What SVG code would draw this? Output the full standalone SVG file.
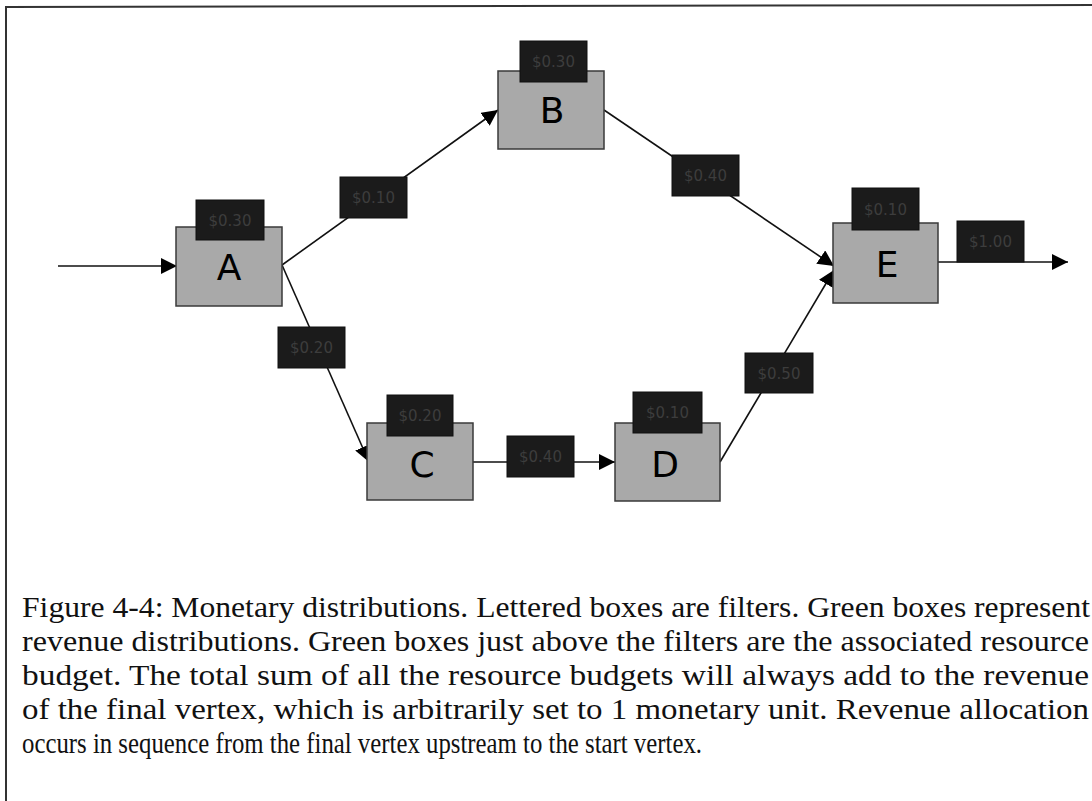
<svg xmlns="http://www.w3.org/2000/svg" width="1092" height="801" viewBox="0 0 1092 801">
<defs>
<marker id="ah" viewBox="0 0 10 10" refX="10" refY="5" markerWidth="16" markerHeight="16" markerUnits="userSpaceOnUse" orient="auto">
<path d="M0,0 L10,5 L0,10 z" fill="#000"/>
</marker>
<style>
.filter{fill:#a9a9a9;stroke:#3a3a3a;stroke-width:1.5}
.dark{fill:#1b1b1b;stroke:#111;stroke-width:1}
.money{font-family:"DejaVu Sans",Verdana,sans-serif;font-size:15px;fill:#3d3d3d;text-anchor:middle}
.letter{font-family:"DejaVu Sans",Verdana,sans-serif;font-size:36px;fill:#000;text-anchor:middle}
.edge{stroke:#111;stroke-width:1.6;fill:none;marker-end:url(#ah)}
.cap{font-family:"Liberation Serif","Times New Roman",serif;font-size:29px;fill:#111}
</style>
</defs>
<rect x="0" y="0" width="1092" height="801" fill="#fff"/>
<path d="M6,801 L6,7 L1092,5" fill="none" stroke="#333" stroke-width="2"/>

<g id="connectors">
<line class="edge" x1="58" y1="266" x2="177" y2="266"/>
<line class="edge" x1="282" y1="265" x2="498" y2="110"/>
<line class="edge" x1="282" y1="265" x2="369" y2="462"/>
<line class="edge" x1="604" y1="110" x2="834" y2="266"/>
<line class="edge" x1="720" y1="462" x2="834" y2="270"/>
<line class="edge" x1="473" y1="462" x2="615" y2="462"/>
<line class="edge" x1="938" y1="262" x2="1068" y2="262"/>
</g>

<g id="edge-labels">
<g id="lab-AB"><rect class="dark" x="340" y="177" width="67" height="41"/><text class="money" x="373.5" y="203">$0.10</text></g>
<g id="lab-AC"><rect class="dark" x="278" y="327" width="67" height="41"/><text class="money" x="311.5" y="353">$0.20</text></g>
<g id="lab-BE"><rect class="dark" x="672" y="155" width="67" height="41"/><text class="money" x="705.5" y="181">$0.40</text></g>
<g id="lab-DE"><rect class="dark" x="745" y="353" width="68" height="40"/><text class="money" x="779" y="378.5">$0.50</text></g>
<g id="lab-CD"><rect class="dark" x="507" y="436" width="67" height="41"/><text class="money" x="540.5" y="462">$0.40</text></g>
<g id="lab-out"><rect class="dark" x="957" y="221" width="67" height="41"/><text class="money" x="990.5" y="247">$1.00</text></g>
</g>

<g id="node-A"><rect class="filter" x="176" y="227" width="106" height="79"/><rect class="dark" x="196" y="200" width="68" height="40"/><text class="money" x="230" y="225.5">$0.30</text><text class="letter" x="229" y="280">A</text></g>
<g id="node-B"><rect class="filter" x="498" y="71" width="106" height="78"/><rect class="dark" x="520" y="41" width="67" height="41"/><text class="money" x="553.5" y="67">$0.30</text><text class="letter" x="552" y="123">B</text></g>
<g id="node-C"><rect class="filter" x="367" y="423" width="106" height="77"/><rect class="dark" x="387" y="395" width="66" height="41"/><text class="money" x="420" y="421">$0.20</text><text class="letter" x="422" y="477">C</text></g>
<g id="node-D"><rect class="filter" x="615" y="423" width="105" height="78"/><rect class="dark" x="633" y="392" width="69" height="41"/><text class="money" x="667.5" y="418">$0.10</text><text class="letter" x="665" y="477">D</text></g>
<g id="node-E"><rect class="filter" x="833" y="223" width="105" height="80"/><rect class="dark" x="852" y="188" width="67" height="42"/><text class="money" x="885.5" y="214.5">$0.10</text><text class="letter" x="887" y="277">E</text></g>

<g id="caption">
<text class="cap" x="22" y="617" textLength="1068" lengthAdjust="spacingAndGlyphs">Figure 4-4: Monetary distributions. Lettered boxes are filters. Green boxes represent</text>
<text class="cap" x="22" y="651" textLength="1067" lengthAdjust="spacingAndGlyphs">revenue distributions. Green boxes just above the filters are the associated resource</text>
<text class="cap" x="22" y="685" textLength="1067" lengthAdjust="spacingAndGlyphs">budget. The total sum of all the resource budgets will always add to the revenue</text>
<text class="cap" x="22" y="719" textLength="1067" lengthAdjust="spacingAndGlyphs">of the final vertex, which is arbitrarily set to 1 monetary unit. Revenue allocation</text>
<text class="cap" x="22" y="753" textLength="680" lengthAdjust="spacingAndGlyphs">occurs in sequence from the final vertex upstream to the start vertex.</text>
</g>
</svg>
